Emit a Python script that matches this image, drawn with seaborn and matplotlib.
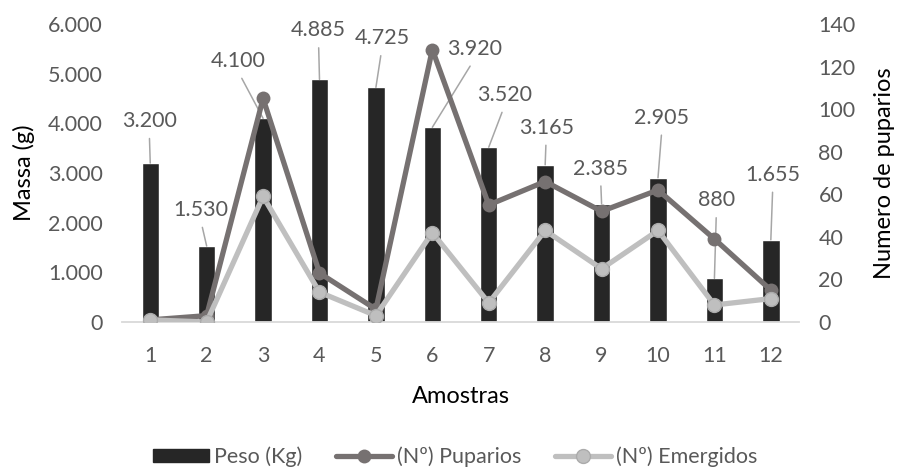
import numpy as np
import pandas as pd
import matplotlib
matplotlib.use("Agg")
import matplotlib.pyplot as plt
from matplotlib.ticker import FuncFormatter
from matplotlib.lines import Line2D
from matplotlib.patches import Patch
import seaborn as sns

# Data
amostras = ["1", "2", "3", "4", "5", "6", "7", "8", "9", "10", "11", "12"]
peso = [3200, 1530, 4100, 4885, 4725, 3920, 3520, 3165, 2385, 2905, 880, 1655]
puparios = [1, 3, 105, 23, 6, 128, 55, 66, 52, 62, 39, 15]
emergidos = [1, 0, 59, 14, 3, 42, 9, 43, 25, 43, 8, 11]

# Label offsets (pixels) relative to the top of each bar
label_dx = [-1, -6, -25, -1, 6, 42, 16, 1, -1, 4, 2, 2]
label_dy = [42, 36, 57, 49, 49, 78, 52, 37, 35, 60, 78, 65]

sns.set_theme(style="white")
plt.rcParams["font.family"] = ["Lato", "DejaVu Sans"]

TXT = "#595959"
BAR = "#262626"
DARK = "#767171"
LIGHT = "#BFBFBF"

df = pd.DataFrame({"Amostra": amostras, "Peso": peso,
                   "Puparios": puparios, "Emergidos": emergidos})

fig = plt.figure(figsize=(8.98, 4.73), dpi=100)
ax = fig.add_axes([0.1359, 0.3192, 0.7539, 0.6301])

sns.barplot(data=df, x="Amostra", y="Peso", color=BAR, width=0.31,
            saturation=1, ax=ax, zorder=2)
ax.set_ylim(0, 6000)
ax.set_xlim(-0.5, len(amostras) - 0.5)
ax.set_yticks(np.arange(0, 6001, 1000))

fmt = FuncFormatter(lambda v, p: f"{int(v):,}".replace(",", "."))
ax.yaxis.set_major_formatter(fmt)

for s in ["top", "right", "left"]:
    ax.spines[s].set_visible(False)
ax.spines["bottom"].set_color("#D9D9D9")
ax.spines["bottom"].set_linewidth(1.3)
ax.tick_params(axis="both", length=0, labelsize=15.5, colors=TXT)
ax.tick_params(axis="y", pad=14)
ax.tick_params(axis="x", pad=17)
ax.set_ylabel("Massa (g)", fontsize=17, color="black", labelpad=9)
ax.set_xlabel("Amostras", fontsize=17, color="black", labelpad=15)

# Data labels with leader lines
for i, v in enumerate(peso):
    ax.annotate(fmt(v, None), xy=(i, v),
                xytext=(label_dx[i] * 0.72, label_dy[i] * 0.72),
                textcoords="offset points", ha="center", va="center",
                fontsize=15.5, color=TXT,
                arrowprops=dict(arrowstyle="-", color="#A6A6A6", lw=1.1,
                                relpos=(0.5, 0.0), shrinkA=3, shrinkB=0),
                zorder=5)

# Secondary axis for the counts
ax2 = ax.twinx()
xs = np.arange(len(amostras))
sns.lineplot(x=xs, y=puparios, ax=ax2, color=DARK, lw=3.8, marker="o",
             markersize=10, markeredgewidth=0, zorder=3)
sns.lineplot(x=xs, y=emergidos, ax=ax2, color=LIGHT, lw=3.8, marker="o",
             markersize=10, markeredgecolor="#ABABAB", markeredgewidth=1.0,
             zorder=4)
ax2.set_ylim(0, 140)
ax2.set_yticks(np.arange(0, 141, 20))
for s in ["top", "right", "left", "bottom"]:
    ax2.spines[s].set_visible(False)
ax2.tick_params(axis="y", length=0, labelsize=15.5, colors=TXT, pad=14)
ax2.set_ylabel("Numero de puparios", fontsize=17, color="black", labelpad=13)
ax2.grid(False)
ax.grid(False)

handles = [
    Patch(facecolor=BAR, edgecolor=BAR),
    Line2D([0], [0], color=DARK, lw=3.8, marker="o", markersize=10,
           markeredgewidth=0),
    Line2D([0], [0], color=LIGHT, lw=3.8, marker="o", markersize=10,
           markeredgecolor="#ABABAB", markeredgewidth=1.0),
]
labels = ["Peso (Kg)", "(Nº) Puparios", "(Nº) Emergidos"]
leg = fig.legend(handles, labels, loc="center", bbox_to_anchor=(0.507, 0.034),
                 ncol=3, frameon=False, fontsize=15.5, handlelength=2.6,
                 handleheight=0.55, handletextpad=0.2, columnspacing=1.6)
for t in leg.get_texts():
    t.set_color(TXT)

fig.savefig("out.png", dpi=100)
